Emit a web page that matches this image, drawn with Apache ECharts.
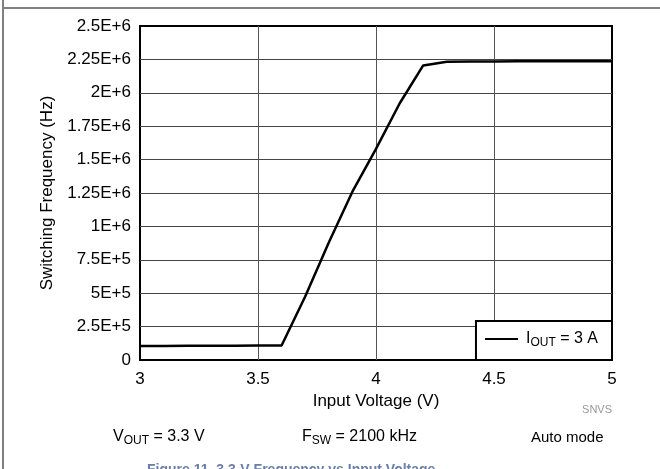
<!DOCTYPE html>
<html>
<head>
<meta charset="utf-8">
<script src="https://cdn.jsdelivr.net/npm/echarts@6/dist/echarts.min.js"></script>
<style>
html,body{margin:0;padding:0;background:#fff;}
#c{width:660px;height:469px;}
</style>
</head>
<body>
<div id="c"></div>
<script>
// ---- data ----
var inputVoltage = [3.0, 3.1, 3.2, 3.3, 3.4, 3.5, 3.6, 3.7, 3.8, 3.9, 4.0, 4.1, 4.2, 4.3, 4.4, 4.5, 4.6, 4.7, 4.8, 4.9, 5.0];
var switchingFreq = [104000, 105000, 106000, 107000, 107000, 108000, 109000, 475000, 880000, 1260000, 1580000, 1920000, 2205000, 2232000, 2235000, 2235000, 2236000, 2236000, 2236000, 2236000, 2236000];
var xTickLabels = ['3', '3.5', '4', '4.5', '5'];
var yTickLabels = ['0', '2.5E+5', '5E+5', '7.5E+5', '1E+6', '1.25E+6', '1.5E+6', '1.75E+6', '2E+6', '2.25E+6', '2.5E+6'];
var seriesName = 'IOUT = 3 A';

var FONT = '"Liberation Sans", Arial, Helvetica, sans-serif';
var chart = echarts.init(document.getElementById('c'), null, {renderer: 'canvas'});

var pts = inputVoltage.map(function (v, i) { return [v, switchingFreq[i]]; });

var subRich = {
  a: {fontFamily: FONT, fontSize: 16, lineHeight: 19, fill: '#000', color: '#000'},
  b: {fontFamily: FONT, fontSize: 12, lineHeight: 12, verticalAlign: 'bottom', fill: '#000', color: '#000'}
};

chart.setOption({
  animation: false,
  backgroundColor: '#fff',
  textStyle: {fontFamily: FONT},
  grid: {left: 140, right: 48, top: 26, bottom: 109, show: true, borderColor: '#000', borderWidth: 2, backgroundColor: 'transparent'},
  xAxis: {
    type: 'value', min: 3, max: 5, interval: 0.5,
    name: 'Input Voltage (V)', nameLocation: 'middle', nameGap: 29,
    nameTextStyle: {fontFamily: FONT, fontSize: 17, color: '#000'},
    axisLine: {show: false}, axisTick: {show: false},
    axisLabel: {margin: 11, fontFamily: FONT, fontSize: 17, color: '#000',
      formatter: function (v) { return xTickLabels[Math.round((v - 3) / 0.5)]; }},
    splitLine: {show: true, showMinLine: false, showMaxLine: false, lineStyle: {color: '#555', width: 1}}
  },
  yAxis: {
    type: 'value', min: 0, max: 2500000, interval: 250000,
    name: 'Switching Frequency (Hz)', nameLocation: 'middle', nameGap: 82, nameRotate: 90,
    nameTextStyle: {fontFamily: FONT, fontSize: 17, color: '#000'},
    axisLine: {show: false}, axisTick: {show: false},
    axisLabel: {margin: 9, fontFamily: FONT, fontSize: 17, color: '#000',
      formatter: function (v) { return yTickLabels[Math.round(v / 250000)]; }},
    splitLine: {show: true, showMinLine: false, showMaxLine: false, lineStyle: {color: '#444', width: 1}}
  },
  legend: {
    show: true, right: 48, bottom: 109, orient: 'horizontal',
    padding: [10, 14, 11, 9], itemGap: 0, itemWidth: 33, itemHeight: 2, icon: 'rect',
    borderColor: '#000', borderWidth: 2, backgroundColor: '#fff',
    data: [seriesName],
    formatter: function () { return '{a|I}{b|OUT}{a| = 3 A}'; },
    textStyle: {
      fontFamily: FONT, color: '#000', padding: [0, 0, 0, 3],
      rich: {
        a: {fontFamily: FONT, fontSize: 16, lineHeight: 20, color: '#000'},
        b: {fontFamily: FONT, fontSize: 12, lineHeight: 12, verticalAlign: 'bottom', color: '#000'}
      }
    }
  },
  series: [{
    name: seriesName, type: 'line', data: pts, showSymbol: false, symbol: 'none',
    lineStyle: {color: '#000', width: 2.5}, itemStyle: {color: '#000'}, z: 5
  }],
  graphic: [
    {type: 'line', shape: {x1: 3, y1: 8, x2: 660, y2: 8}, style: {stroke: '#808080', lineWidth: 2}, silent: true},
    {type: 'line', shape: {x1: 3, y1: 0, x2: 3, y2: 469}, style: {stroke: '#808080', lineWidth: 2}, silent: true},
    {type: 'text', right: 48, top: 404, style: {text: 'SNVS', fontFamily: FONT, fontSize: 11, fill: '#999'}},
    {type: 'text', left: 113, top: 429, style: {text: '{a|V}{b|OUT}{a| = 3.3 V}', fontFamily: FONT, rich: subRich}},
    {type: 'text', left: 302, top: 429, style: {text: '{a|F}{b|SW}{a| = 2100 kHz}', fontFamily: FONT, rich: subRich}},
    {type: 'text', left: 531, top: 430, style: {text: 'Auto mode', fontFamily: FONT, fontSize: 15, fill: '#000'}},
    {type: 'text', left: 147, top: 463, style: {text: 'Figure 11. 3.3-V Frequency vs Input Voltage', fontFamily: FONT, fontSize: 14, fontWeight: 'bold', fill: '#6a7fa8'}}
  ]
});
</script>
</body>
</html>
